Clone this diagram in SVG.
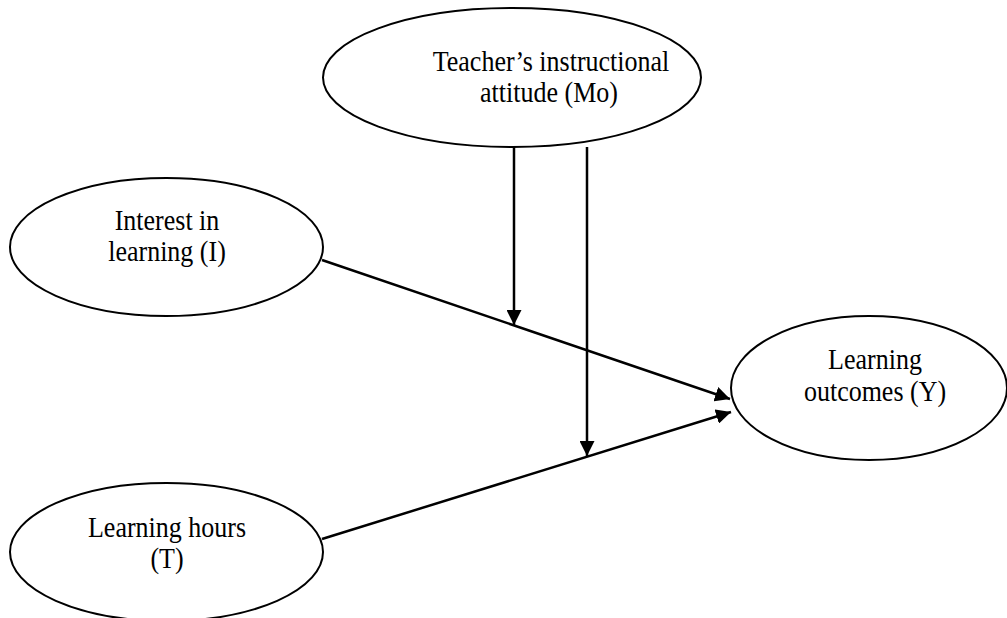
<svg xmlns="http://www.w3.org/2000/svg" width="1007" height="618" viewBox="0 0 1007 618">
<style>
.node ellipse{fill:#fff;stroke:#000;stroke-width:2}
.node text{font-family:"Liberation Serif","Times New Roman",serif;font-size:26px;fill:#000;text-anchor:middle}
.conn line{stroke:#000;stroke-width:2.5;fill:none}
</style>
<defs>
<marker id="ah" viewBox="0 0 15 15" refX="15" refY="7.5" markerWidth="15" markerHeight="15" markerUnits="userSpaceOnUse" orient="auto">
<path d="M0,0 L15,7.5 L0,15 Z" fill="#000"/>
</marker>
</defs>
<rect width="1007" height="618" fill="#fff"/>
<g id="node-mo" class="node">
<ellipse cx="512" cy="77.5" rx="189" ry="69.5"/>
<text transform="translate(551,71) scale(1,1.15)">Teacher’s instructional</text>
<text transform="translate(549,102) scale(1,1.15)">attitude (Mo)</text>
</g>
<g id="node-i" class="node">
<ellipse cx="166.5" cy="247" rx="156.5" ry="69"/>
<text transform="translate(167,230) scale(1,1.15)">Interest in</text>
<text transform="translate(167,261) scale(1,1.15)">learning (I)</text>
</g>
<g id="node-y" class="node">
<ellipse cx="869" cy="388" rx="138" ry="72"/>
<text transform="translate(875,369) scale(1,1.15)">Learning</text>
<text transform="translate(875,401) scale(1,1.15)">outcomes (Y)</text>
</g>
<g id="node-t" class="node">
<ellipse cx="166.5" cy="552" rx="156.5" ry="69"/>
<text transform="translate(167,537) scale(1,1.15)">Learning hours</text>
<text transform="translate(167,568) scale(1,1.15)">(T)</text>
</g>
<g id="connectors" class="conn">
<line x1="322" y1="260" x2="730" y2="399" marker-end="url(#ah)"/>
<line x1="322" y1="539" x2="731" y2="412" marker-end="url(#ah)"/>
<line x1="514" y1="147" x2="514" y2="325" marker-end="url(#ah)"/>
<line x1="587" y1="147" x2="587" y2="456" marker-end="url(#ah)"/>
</g>
</svg>
